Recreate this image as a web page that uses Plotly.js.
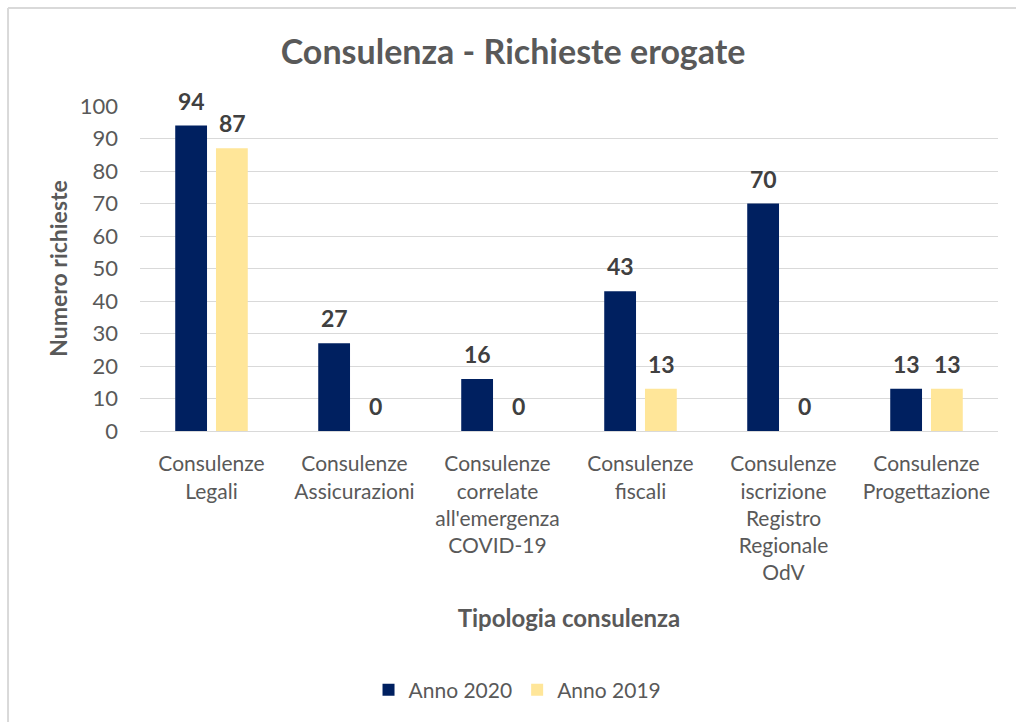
<!DOCTYPE html>
<html>
<head>
<meta charset="utf-8">
<script src="https://cdn.plot.ly/plotly-3.0.1.min.js"></script>
<style>html,body{margin:0;padding:0;background:#fff;}#chart{width:1016px;height:722px;}</style>
</head>
<body>
<div id="chart"></div>
<script>
var categories = [
  "Consulenze<br>Legali",
  "Consulenze<br>Assicurazioni",
  "Consulenze<br>correlate<br>all'emergenza<br>COVID-19",
  "Consulenze<br>fiscali",
  "Consulenze<br>iscrizione<br>Registro<br>Regionale<br>OdV",
  "Consulenze<br>Progettazione"
];
var anno2020 = [94, 27, 16, 43, 70, 13];
var anno2019 = [87, 0, 0, 13, 0, 13];
var seriesNames = ["Anno 2020", "Anno 2019"];
var yTicks = [0, 10, 20, 30, 40, 50, 60, 70, 80, 90, 100];

var FONT = "Lato, 'Open Sans', sans-serif";
var GRAY = "#595959";

var traces = [
  {type: "bar", name: seriesNames[0], x: categories, y: anno2020,
   marker: {color: "#002060"}, hoverinfo: "y"},
  {type: "bar", name: seriesNames[1], x: categories, y: anno2019,
   marker: {color: "#FFE699"}, hoverinfo: "y"}
];

var annotations = [];
var series = [anno2020, anno2019];
var shifts = [-20.5, 20.5];
series.forEach(function (vals, s) {
  vals.forEach(function (v, i) {
    annotations.push({
      x: categories[i], y: v, xref: "x", yref: "y",
      text: String(v), showarrow: false,
      xshift: shifts[s], yshift: 25, yanchor: "middle",
      font: {family: FONT, size: 23, color: "#404040", weight: "bold"}
    });
  });
});

var layout = {
  width: 1016, height: 722,
  paper_bgcolor: "#ffffff", plot_bgcolor: "#ffffff",
  margin: {l: 140, r: 18, t: 106, b: 291},
  font: {family: FONT, color: GRAY},
  title: {text: "<b>Consulenza - Richieste erogate</b>", x: 0.505, xanchor: "center",
          y: 0.928, yanchor: "middle", font: {family: FONT, size: 34, color: GRAY}},
  barmode: "group", bargap: 0.43, bargroupgap: 0.22,
  showlegend: true,
  legend: {orientation: "h", x: 0.44, xanchor: "center", y: -0.797, yanchor: "middle",
           font: {family: FONT, size: 21, color: GRAY}, itemwidth: 30, traceorder: "normal"},
  xaxis: {
    type: "category", showgrid: false, zeroline: false,
    showline: true, linecolor: "#d9d9d9", linewidth: 1,
    ticks: "", tickfont: {family: FONT, size: 21, color: GRAY},
    ticklabelstandoff: 14,
    title: {text: "<b>Tipologia consulenza</b>", standoff: 26,
            font: {family: FONT, size: 24, color: GRAY}}
  },
  yaxis: {
    range: [0, 100], tickvals: yTicks, showgrid: true, gridcolor: "#d9d9d9", gridwidth: 1,
    zeroline: false, showline: false, ticks: "",
    tickfont: {family: FONT, size: 22, color: GRAY}, ticklabelstandoff: 21,
    title: {text: "<b>Numero richieste</b>", standoff: 5,
            font: {family: FONT, size: 23, color: GRAY}}
  },
  annotations: annotations,
  shapes: [
    {type: "line", xref: "paper", yref: "paper", x0: -0.1538, x1: 1.03, y0: 1.3015, y1: 1.3015,
     line: {color: "#d9d9d9", width: 2}},
    {type: "line", xref: "paper", yref: "paper", x0: -0.1538, x1: -0.1538, y0: 1.3015, y1: -0.9,
     line: {color: "#d9d9d9", width: 2}}
  ]
};

Plotly.newPlot("chart", traces, layout, {displayModeBar: false, responsive: false});
</script>
</body>
</html>
